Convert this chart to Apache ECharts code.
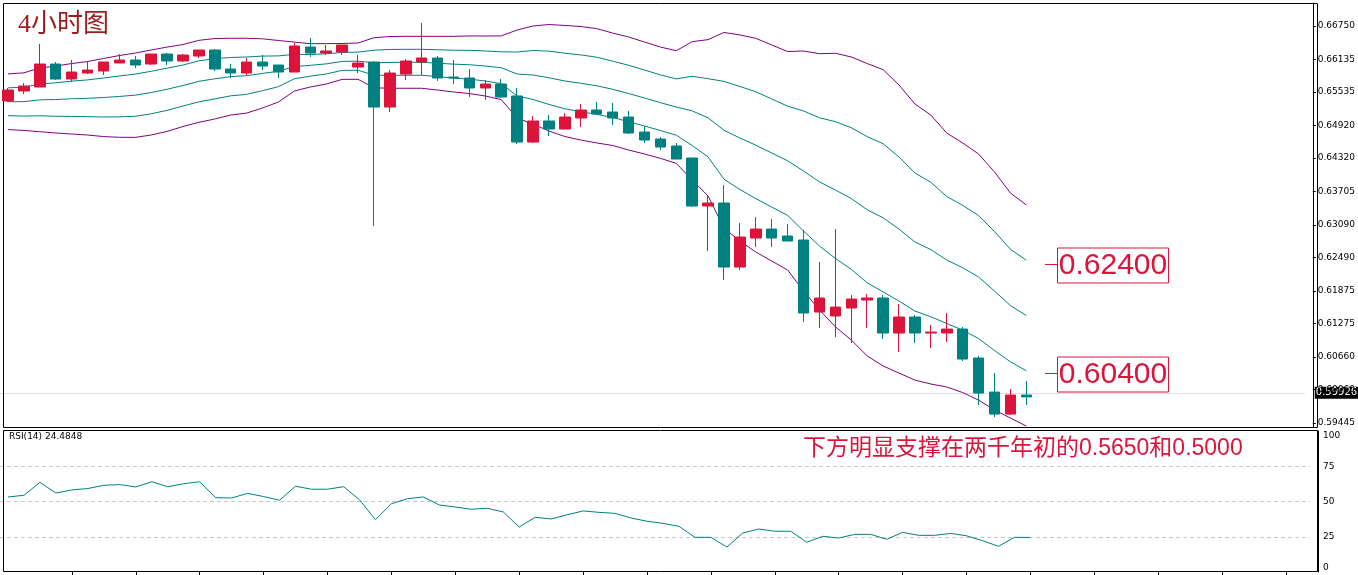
<!DOCTYPE html>
<html><head><meta charset="utf-8">
<script src="https://cdn.jsdelivr.net/npm/echarts@6/dist/echarts.min.js"></script>
<style>html,body{margin:0;padding:0;background:#fff}#c{width:1358px;height:575px}</style>
</head><body><div id="c"></div>
<script>
// OHLC as [open, close, low, high]
const candles = [
[0.65370,0.65572,0.65351,0.65609],[0.65554,0.65646,0.65498,0.65701],[0.65627,0.66050,0.65627,0.66418],
[0.66050,0.65774,0.65756,0.66087],[0.65774,0.65903,0.65719,0.66124],[0.65885,0.65940,0.65866,0.66106],
[0.65922,0.66087,0.65848,0.66087],[0.66069,0.66124,0.66069,0.66234],[0.66124,0.66032,0.65977,0.66198],
[0.66050,0.66234,0.66032,0.66234],[0.66234,0.66106,0.66032,0.66253],[0.66106,0.66216,0.66087,0.66234],
[0.66198,0.66308,0.66161,0.66308],[0.66308,0.65958,0.65922,0.66326],[0.65958,0.65885,0.65793,0.66050],
[0.65885,0.66087,0.65848,0.66161],[0.66087,0.66014,0.65940,0.66216],[0.66032,0.65903,0.65793,0.66032],
[0.65903,0.66382,0.65903,0.66437],[0.66363,0.66253,0.66179,0.66529],[0.66253,0.66290,0.66216,0.66400],
[0.66271,0.66400,0.66216,0.66400],[0.65995,0.66069,0.65885,0.66216],[0.66087,0.65259,0.63070,0.66106],
[0.65259,0.65885,0.65167,0.65940],[0.65866,0.66106,0.65756,0.66142],[0.66087,0.66161,0.65848,0.66805],
[0.66161,0.65793,0.65738,0.66198],[0.65811,0.65793,0.65682,0.66124],[0.65793,0.65609,0.65443,0.65958],
[0.65609,0.65682,0.65388,0.65756],[0.65682,0.65443,0.65425,0.65774],[0.65462,0.64615,0.64578,0.65609],
[0.64615,0.65002,0.64597,0.65094],[0.65002,0.64854,0.64726,0.65112],[0.64854,0.65075,0.64854,0.65149],
[0.65057,0.65204,0.64891,0.65314],[0.65204,0.65130,0.65112,0.65351],[0.65167,0.65057,0.64928,0.65333],
[0.65075,0.64781,0.64762,0.65186],[0.64799,0.64652,0.64597,0.64910],[0.64670,0.64523,0.64468,0.64707],
[0.64542,0.64302,0.64302,0.64597],[0.64321,0.63438,0.63419,0.64321],[0.63438,0.63493,0.62610,0.63640],
[0.63493,0.62315,0.62076,0.63824],[0.62315,0.62867,0.62260,0.63125],[0.62849,0.63014,0.62683,0.63235],
[0.63014,0.62849,0.62683,0.63198],[0.62886,0.62794,0.62794,0.63106],[0.62812,0.61469,0.61303,0.62996],
[0.61487,0.61745,0.61193,0.62407],[0.61414,0.61579,0.61027,0.63014],[0.61561,0.61726,0.60917,0.61800],
[0.61708,0.61745,0.61193,0.61818],[0.61745,0.61101,0.60990,0.61800],[0.61101,0.61395,0.60751,0.61634],
[0.61395,0.61101,0.60917,0.61432],[0.61101,0.61119,0.60825,0.61248],[0.61101,0.61174,0.60935,0.61469],
[0.61174,0.60622,0.60586,0.61211],[0.60641,0.59997,0.59776,0.60678],[0.60015,0.59610,0.59555,0.60365],
[0.59610,0.59960,0.59592,0.60070],[0.59960,0.59926,0.59776,0.60218]
];
const bbMid = [0.65356,0.65358,0.65391,0.65397,0.65411,0.65420,0.65434,0.65454,0.65477,0.65526,0.65586,0.65655,
0.65732,0.65779,0.65818,0.65836,0.65878,0.65917,0.66004,0.66026,0.66053,0.66098,0.66103,0.66074,0.66080,0.66082,
0.66082,0.66066,0.66048,0.66037,0.66014,0.65982,0.65866,0.65848,0.65797,0.65738,0.65696,0.65650,0.65586,0.65508,
0.65425,0.65339,0.65259,0.65188,0.65061,0.64831,0.64689,0.64557,0.64413,0.64270,0.64082,0.63882,0.63732,0.63576,
0.63369,0.63221,0.63014,0.62775,0.62637,0.62444,0.62302,0.62131,0.61874,0.61607,0.61423];
const bbDev = [0.00256,0.00265,0.00293,0.00308,0.00324,0.00338,0.00359,0.00376,0.00388,0.00391,0.00388,0.00377,
0.00377,0.00370,0.00353,0.00344,0.00318,0.00283,0.00225,0.00199,0.00186,0.00165,0.00167,0.00230,0.00238,0.00239,
0.00239,0.00247,0.00256,0.00265,0.00276,0.00293,0.00405,0.00451,0.00490,0.00511,0.00522,0.00526,0.00517,0.00520,
0.00515,0.00512,0.00518,0.00637,0.00719,0.00900,0.00948,0.00983,0.00994,0.01005,0.01104,0.01179,0.01258,0.01302,
0.01345,0.01363,0.01325,0.01270,0.01237,0.01168,0.01148,0.01132,0.01095,0.01035,0.01017];
const rsi = [53.2,54.4,63.6,56,58.2,59.2,61.5,62,60.3,64,60.5,62.6,64,52.7,52.5,55.8,53.5,50.9,60.8,58.7,58.7,60.5,
51.3,37.1,48.4,52,53.2,47.5,46.1,44.5,45.2,42.6,31.9,38.8,37.6,40.6,43.3,42.3,41.6,38.3,36,34.5,32.4,24.6,24.6,17.7,
27.7,30.5,28.9,28.9,21.1,25.3,24.1,26.7,26.7,23.2,28.1,26,26,27.4,25.7,22.2,18.2,24.6,24.4848];
const priceTicks = [0.66750,0.66135,0.65535,0.64920,0.64320,0.63705,0.63090,0.62490,0.61875,0.61275,0.60660,0.60060,0.59445];
const levels = ['0.62400','0.60400'];
const lastPrice = 0.59926;
const slots = 82;

const cats = Array.from({length: slots}, (_, i) => String(i));
const band = k => bbMid.map((m, i) => +(m + k * bbDev[i]).toFixed(5));
const line = (data, color) => ({type:'line', data, xAxisIndex:0, yAxisIndex:0, symbol:'none', silent:true,
  lineStyle:{color, width:1}, z:1});

const chart = echarts.init(document.getElementById('c'));
chart.setOption({
  animation:false,
  grid:[{left:-2, top:3, width:1312, height:424},{left:-2, top:431, width:1312, height:141}],
  xAxis:[
    {type:'category', data:cats, gridIndex:0, axisLine:{show:false}, axisTick:{show:false}, axisLabel:{show:false}},
    {type:'category', data:cats, gridIndex:1, axisLine:{show:false},
      axisTick:{show:true, alignWithLabel:true, inside:false, length:4, interval:(i)=>i%4===0 && i>0, lineStyle:{color:'#000'}},
      axisLabel:{show:false}}
  ],
  yAxis:[
    {type:'value', gridIndex:0, position:'right', offset:8, min:0.59372, max:0.67173, scale:true,
      axisLine:{show:true, lineStyle:{color:'#000'}}, splitLine:{show:false},
      axisTick:{show:true, length:3, customValues:priceTicks, lineStyle:{color:'#000'}},
      axisLabel:{customValues:priceTicks, formatter:v=>v.toFixed(5), fontFamily:'DejaVu Sans', fontSize:9, color:'#000', margin:5}},
    {type:'value', gridIndex:1, position:'right', offset:8, min:0, max:100, interval:25,
      axisLine:{show:true, lineStyle:{color:'#000'}},
      splitLine:{show:true, showMinLine:false, showMaxLine:false, lineStyle:{color:'#c8c8c8', type:[4,3]}},
      axisTick:{show:false},
      axisLabel:{fontFamily:'DejaVu Sans', fontSize:9, color:'#000', margin:5, verticalAlignMinLabel:'bottom', verticalAlignMaxLabel:'top'}}
  ],
  series:[
    line(band(2), '#800080'), line(band(1), '#008080'), line(band(0), '#008080'),
    line(band(-1), '#008080'), line(band(-2), '#800080'),
    {type:'candlestick', data:candles.map(c=>[c[0],c[1],c[2],c[3]]), xAxisIndex:0, yAxisIndex:0, barWidth:11, z:3,
      itemStyle:{color:'#dc143c', borderColor:'#dc143c', color0:'#008080', borderColor0:'#008080', borderWidth:1},
      markLine:{silent:true, symbol:'none', z:0,
        lineStyle:{color:'#dcdcf0', type:'solid', width:1},
        label:{position:'end', distance:10, formatter:lastPrice.toFixed(5), backgroundColor:'#000', color:'#fff',
          fontFamily:'DejaVu Sans', fontSize:10, padding:[1,1]},
        data:[{yAxis:lastPrice}]}},
    {type:'line', data:rsi, xAxisIndex:1, yAxisIndex:1, symbol:'none', lineStyle:{color:'#008080', width:1}}
  ]
});

const gfx = [
  {type:'rect', shape:{x:3.5, y:3.5, width:1314, height:424}, style:{fill:null, stroke:'#000', lineWidth:1}, silent:true},
  {type:'rect', shape:{x:3.5, y:430.5, width:1314, height:141}, style:{fill:null, stroke:'#000', lineWidth:1}, silent:true},
  {type:'text', left:18, top:12, style:{text:'4小时图', font:'26px "Liberation Serif", "Noto Sans CJK SC"', fill:'#9b1c1c'}},
  {type:'text', left:9, top:432, style:{text:'RSI(14) 24.4848', font:'9px "DejaVu Sans"', fill:'#000'}},
  {type:'text', left:803, top:437, style:{text:'下方明显支撑在两千年初的0.5650和0.5000', font:'23px "Liberation Sans", "Noto Sans CJK SC"', fill:'#dc143c'}}
];
levels.forEach(l => {
  const y = Math.round(chart.convertToPixel({yAxisIndex:0}, parseFloat(l))) + 0.5;
  gfx.push({type:'line', shape:{x1:1045, y1:y+2, x2:1057, y2:y+2}, style:{stroke:'#dc143c', lineWidth:1}});
  gfx.push({type:'rect', shape:{x:1057.5, y:y-14.5, width:111, height:35}, style:{fill:'#fff', stroke:'#dc143c', lineWidth:1}});
  gfx.push({type:'text', x:1113, y:y+3, style:{text:l, font:'30px "Liberation Sans"', fill:'#dc143c', align:'center', verticalAlign:'middle'}});
});
chart.setOption({graphic:gfx});
</script></body></html>
